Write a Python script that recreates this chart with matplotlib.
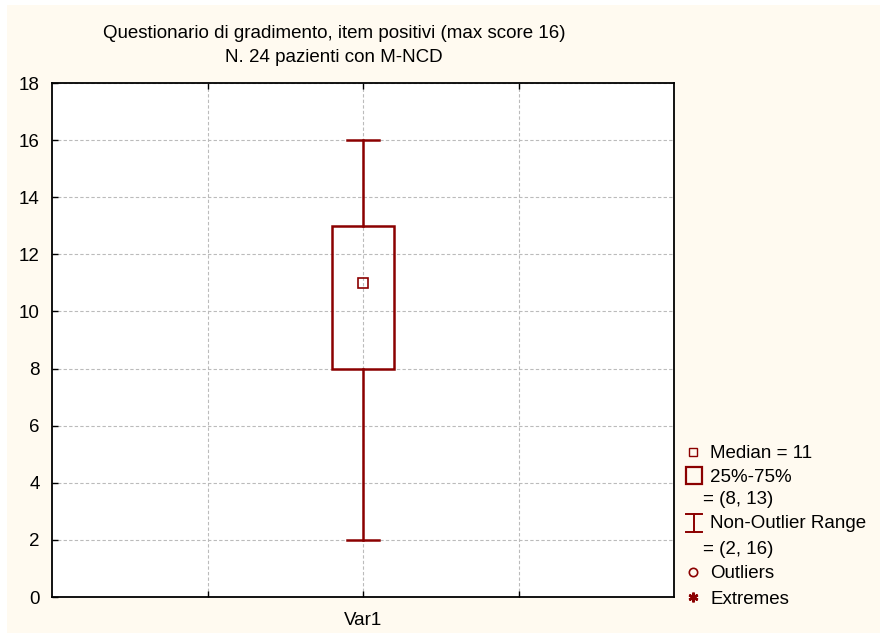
import matplotlib
matplotlib.use("Agg")
import matplotlib.pyplot as plt
from matplotlib.lines import Line2D
from matplotlib.patches import Rectangle

plt.rcParams['font.family'] = ['Liberation Sans', 'DejaVu Sans']

title_lines = ["Questionario di gradimento, item positivi (max score 16)", "N. 24 pazienti con M-NCD"]
categories = ["Var1"]
medians = [11]
q1 = [8]
q3 = [13]
whisk_lo = [2]
whisk_hi = [16]
yticks = [0, 2, 4, 6, 8, 10, 12, 14, 16, 18]

RED = "#8B0000"
CREAM = "#FFFAF0"

fig = plt.figure(figsize=(8.83, 6.35), dpi=100)
fig.patch.set_facecolor("white")
W, H = 883, 635
fig.patches.append(Rectangle((7 / W, 2 / H), (880 - 7) / W, (630 - 2) / H,
                             transform=fig.transFigure, facecolor=CREAM, edgecolor="none", zorder=-10))

ax = fig.add_axes([52 / W, 1 - 597 / H, (674 - 52) / W, (597 - 83) / H])
ax.set_facecolor("white")
ax.set_xlim(0, 4)
ax.set_ylim(0, 18)
ax.set_yticks(yticks)
ax.set_xticks([1, 2, 3])
ax.set_xticklabels(["", categories[0], ""])
ax.tick_params(axis='both', direction='in', length=4, labelsize=13.5, width=1, top=True, right=True)
ax.tick_params(axis='y', right=False, pad=9)
ax.tick_params(axis='x', pad=11)
ax.grid(True, color="#bbbbbb", linestyle=(0, (3, 2)), linewidth=0.8)
for s in ax.spines.values():
    s.set_linewidth(1.3)
    s.set_color("black")

for i, cat in enumerate(categories):
    x = 2 + i
    bw = 0.4
    cw = 0.2
    ax.add_patch(Rectangle((x - bw / 2, q1[i]), bw, q3[i] - q1[i], facecolor="none",
                           edgecolor=RED, linewidth=1.8, zorder=3))
    ax.plot([x, x], [q3[i], whisk_hi[i]], color=RED, lw=1.8, zorder=3)
    ax.plot([x, x], [whisk_lo[i], q1[i]], color=RED, lw=1.8, zorder=3)
    ax.plot([x - cw / 2, x + cw / 2], [whisk_hi[i]] * 2, color=RED, lw=1.8, zorder=3)
    ax.plot([x - cw / 2, x + cw / 2], [whisk_lo[i]] * 2, color=RED, lw=1.8, zorder=3)
    ax.plot([x], [medians[i]], marker='s', markersize=7, markerfacecolor='none',
            markeredgecolor=RED, markeredgewidth=1.2, zorder=4)

fs = 13.5
# title
fig.text(334 / W, 1 - 34 / H, title_lines[0], ha='center', va='center', fontsize=fs)
fig.text(334 / W, 1 - 57 / H, title_lines[1], ha='center', va='center', fontsize=fs)

# legend (manual)
def fy(y):
    return 1 - y / H
def fx(x):
    return x / W

tx = 710
d = 2
fig.add_artist(Line2D([fx(693)], [fy(452)], marker='s', markersize=6, markerfacecolor='none',
                      markeredgecolor=RED, markeredgewidth=1.0, transform=fig.transFigure))
fig.text(fx(tx), fy(452 + d), f"Median = {medians[0]}", va='center', fontsize=fs)

fig.add_artist(Rectangle((fx(686), fy(484)), 16 / W, 17 / H, facecolor='none', edgecolor=RED,
                         linewidth=1.6, transform=fig.transFigure))
fig.text(fx(tx), fy(475 + d), "25%-75%", va='center', fontsize=fs)
fig.text(fx(703), fy(498 + d), f"= ({q1[0]}, {q3[0]})", va='center', fontsize=fs)

# whisker symbol
fig.add_artist(Line2D([fx(694), fx(694)], [fy(514), fy(532)], color=RED, lw=1.4, transform=fig.transFigure))
fig.add_artist(Line2D([fx(686), fx(702)], [fy(514), fy(514)], color=RED, lw=1.4, transform=fig.transFigure))
fig.add_artist(Line2D([fx(686), fx(702)], [fy(532), fy(532)], color=RED, lw=1.4, transform=fig.transFigure))
fig.text(fx(tx), fy(522 + d), "Non-Outlier Range", va='center', fontsize=fs)
fig.text(fx(703), fy(547 + d), f"= ({whisk_lo[0]}, {whisk_hi[0]})", va='center', fontsize=fs)

fig.add_artist(Line2D([fx(693)], [fy(572)], marker='o', markersize=6, markerfacecolor='none',
                      markeredgecolor=RED, markeredgewidth=1.2, transform=fig.transFigure))
fig.text(fx(tx), fy(572 + d), "Outliers", va='center', fontsize=fs)

fig.add_artist(Line2D([fx(693)], [fy(597)], marker=(6, 2, 0), markersize=7,
                      markeredgecolor=RED, markeredgewidth=1.8, transform=fig.transFigure))
fig.text(fx(tx), fy(597 + d), "Extremes", va='center', fontsize=fs)

fig.savefig("out.png", dpi=100, facecolor=fig.get_facecolor())
